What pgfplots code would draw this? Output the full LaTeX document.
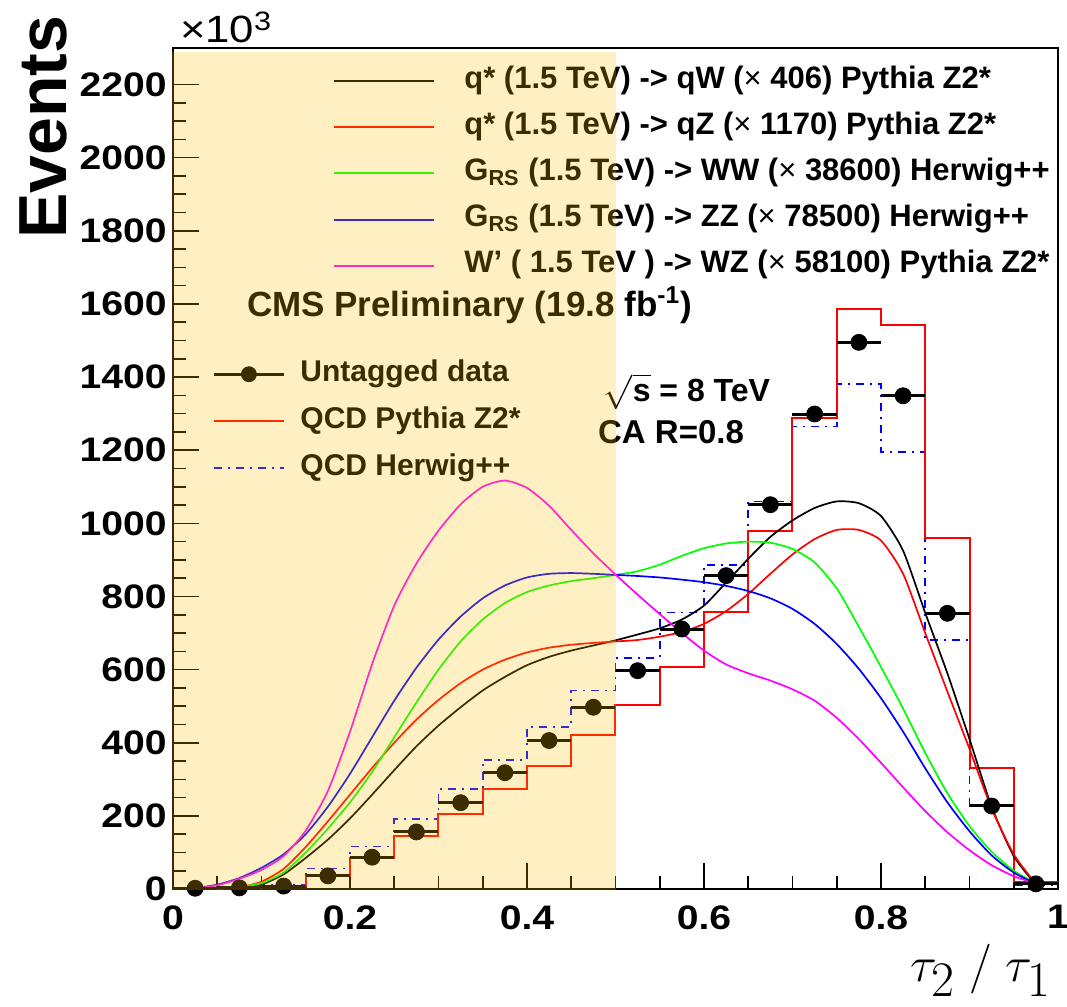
\documentclass[border=0pt]{standalone}
\usepackage{fontspec}
\setmainfont{Liberation Sans}
\newfontfamily\tickfont{Liberation Sans}[FakeStretch=1.15]
\usepackage{pgfplots}
\pgfplotsset{compat=1.18}

\definecolor{rootgreen}{RGB}{0,255,0}
\definecolor{rootblue}{RGB}{0,0,255}
\definecolor{rootmag}{RGB}{255,0,255}
\definecolor{shade}{RGB}{255,190,0}

\newcommand{\legfont}{\fontsize{15.5}{18}\selectfont\bfseries}
\newcommand{\legfontb}{\fontsize{15}{18}\selectfont\bfseries}

\pgfplotsset{
  frame axis/.style={
      scale only axis,
      width=442.5pt,
      height=420.5pt,
      xmin=0, xmax=1,
      ymin=0, ymax=2300,
      clip=false,
    },
  sig/.style={smooth, tension=0.4, line width=0.85pt},
}

\begin{document}
\begin{tikzpicture}
  \useasboundingbox (-86.5pt,-59pt) rectangle (447pt,444.5pt);

  % ------------------------------------------------------------------
  % main frame, histograms, signal shapes, data
  % ------------------------------------------------------------------
  \begin{axis}[
      frame axis,
      name=main,
      axis line style={line width=1pt},
      xtick={0,0.2,0.4,0.6,0.8,1},
      xticklabels={0,0.2,0.4,0.6,0.8,1},
      minor x tick num=3,
      ytick={0,200,400,600,800,1000,1200,1400,1600,1800,2000,2200},
      minor y tick num=3,
      scaled y ticks=false,
      /pgf/number format/fixed,
      /pgf/number format/1000 sep={},
      tick align=inside,
      xtick pos=bottom,
      ytick pos=left,
      major tick length=13pt,
      minor tick length=6.5pt,
      tick style={black, line width=0.8pt},
      /pgf/number format/assume math mode=true,
      tick label style={font=\tickfont\fontsize{17}{20}\selectfont\bfseries, inner sep=0pt},
      yticklabel style={xshift=-3pt},
      xticklabel style={yshift=-8pt},
      legend style={
          draw=none, fill=none,
          at={(rel axis cs:0.1808,0.979)}, anchor=north west,
          inner sep=0pt, row sep=8.1pt,
          font=\legfont,
          nodes={inner sep=0pt, text height=11pt, text depth=4pt},
          /tikz/every odd column/.append style={column sep=14.5pt},
          cells={anchor=west},
        },
      legend image code/.code={\draw[#1, line width=1pt] (0pt,0pt) -- (50pt,0pt);},
    ]

    % QCD Herwig++ (dash-dot histogram)
    \addplot[rootblue, line width=0.9pt, const plot mark left,
      dash pattern=on 4pt off 3pt on 1pt off 3pt, forget plot]
    coordinates {
        (0,1) (0.05,3) (0.1,12) (0.15,56) (0.2,116) (0.25,191) (0.3,273)
        (0.35,353) (0.4,444) (0.45,543) (0.5,632) (0.55,756) (0.6,887)
        (0.65,1060) (0.7,1265) (0.75,1382) (0.8,1195) (0.85,681) (0.9,227)
        (0.95,12) (1.0,12)
      };

    % QCD Pythia Z2* (solid histogram)
    \addplot[red, line width=1pt, const plot mark left, forget plot]
    coordinates {
        (0,1) (0.05,2) (0.1,9) (0.15,35) (0.2,84) (0.25,146) (0.3,204)
        (0.35,274) (0.4,337) (0.45,421) (0.5,502) (0.55,607) (0.6,757)
        (0.65,978) (0.7,1288) (0.75,1587) (0.8,1543) (0.85,961) (0.9,330)
        (0.95,20) (1.0,20)
      };

    % q* -> qW
    \addplot[sig, black] coordinates {
        (0.025,0) (0.05,0) (0.075,3) (0.1,12) (0.125,40) (0.15,85)
        (0.175,135) (0.2,193) (0.225,258) (0.25,325) (0.275,390) (0.3,447)
        (0.325,497) (0.35,543) (0.375,580) (0.4,612) (0.425,635) (0.45,652)
        (0.475,666) (0.5,680) (0.525,696) (0.55,713) (0.575,737) (0.6,775)
        (0.625,838) (0.65,903) (0.675,963) (0.7,1008) (0.725,1042)
        (0.75,1060) (0.775,1055) (0.8,1020) (0.825,925) (0.85,755)
        (0.875,590) (0.9,410) (0.925,225) (0.95,90) (0.975,12)
      };
    \addlegendentry{q* (1.5 TeV) -> qW ({\mdseries ×} 406) Pythia Z2*}

    % q* -> qZ
    \addplot[sig, red] coordinates {
        (0.025,0) (0.05,1) (0.075,5) (0.1,20) (0.125,55) (0.15,115)
        (0.175,185) (0.2,258) (0.225,331) (0.25,400) (0.275,463) (0.3,517)
        (0.325,563) (0.35,600) (0.375,627) (0.4,647) (0.425,660) (0.45,668)
        (0.475,673) (0.5,677) (0.525,681) (0.55,690) (0.575,703) (0.6,725)
        (0.625,760) (0.65,807) (0.675,862) (0.7,915) (0.725,957) (0.75,982)
        (0.775,982) (0.8,953) (0.825,862) (0.85,700) (0.875,540) (0.9,383)
        (0.925,220) (0.95,95) (0.975,14)
      };
    \addlegendentry{q* (1.5 TeV) -> qZ ({\mdseries ×} 1170) Pythia Z2*}

    % G_RS -> WW
    \addplot[sig, rootgreen] coordinates {
        (0.025,0) (0.05,2) (0.075,6) (0.1,16) (0.125,45) (0.15,100)
        (0.175,165) (0.2,237) (0.225,320) (0.25,415) (0.275,510) (0.3,600)
        (0.325,677) (0.35,737) (0.375,782) (0.4,812) (0.425,830) (0.45,842)
        (0.475,850) (0.5,859) (0.525,869) (0.55,887) (0.575,911) (0.6,932)
        (0.625,945) (0.65,950) (0.675,947) (0.7,930) (0.725,893) (0.75,822)
        (0.775,717) (0.8,607) (0.825,493) (0.85,372) (0.875,262) (0.9,172)
        (0.925,102) (0.95,50) (0.975,15)
      };
    \addlegendentry{G\textsubscript{RS} (1.5 TeV) -> WW ({\mdseries ×} 38600) Herwig++}

    % G_RS -> ZZ
    \addplot[sig, rootblue] coordinates {
        (0.025,2) (0.05,12) (0.075,30) (0.1,58) (0.125,95) (0.15,150)
        (0.175,225) (0.2,315) (0.225,415) (0.25,515) (0.275,605) (0.3,682)
        (0.325,745) (0.35,795) (0.375,830) (0.4,852) (0.425,862) (0.45,864)
        (0.475,862) (0.5,859) (0.525,856) (0.55,852) (0.575,846) (0.6,839)
        (0.625,829) (0.65,815) (0.675,795) (0.7,766) (0.725,725) (0.75,670)
        (0.775,602) (0.8,522) (0.825,430) (0.85,330) (0.875,237) (0.9,158)
        (0.925,92) (0.95,45) (0.975,14)
      };
    \addlegendentry{G\textsubscript{RS} (1.5 TeV) -> ZZ ({\mdseries ×} 78500) Herwig++}

    % W' -> WZ
    \addplot[sig, rootmag] coordinates {
        (0.025,2) (0.05,10) (0.075,28) (0.1,52) (0.125,90) (0.15,160)
        (0.175,268) (0.2,430) (0.225,615) (0.25,775) (0.275,890) (0.3,980)
        (0.325,1052) (0.35,1100) (0.375,1117) (0.4,1097) (0.425,1048)
        (0.45,982) (0.475,918) (0.5,860) (0.525,805) (0.55,752) (0.575,700)
        (0.6,652) (0.625,614) (0.65,590) (0.675,570) (0.7,546) (0.725,515)
        (0.75,468) (0.775,410) (0.8,345) (0.825,278) (0.85,213) (0.875,155)
        (0.9,106) (0.925,65) (0.95,35) (0.975,15)
      };
    \addlegendentry{W' ( 1.5 TeV ) -> WZ ({\mdseries ×} 58100) Pythia Z2*}

    % untagged data
    \addplot[
      black, only marks, mark=*, mark size=4pt, forget plot,
      error bars/.cd, x dir=both, x explicit, error mark=none,
      error bar style={line width=1.5pt},
    ]
    coordinates {
        (0.025,2) +- (0.025,0)
        (0.075,3) +- (0.025,0)
        (0.125,8) +- (0.025,0)
        (0.175,36) +- (0.025,0)
        (0.225,87) +- (0.025,0)
        (0.275,156) +- (0.025,0)
        (0.325,236) +- (0.025,0)
        (0.375,318) +- (0.025,0)
        (0.425,406) +- (0.025,0)
        (0.475,497) +- (0.025,0)
        (0.525,597) +- (0.025,0)
        (0.575,711) +- (0.025,0)
        (0.625,857) +- (0.025,0)
        (0.675,1051) +- (0.025,0)
        (0.725,1299) +- (0.025,0)
        (0.775,1495) +- (0.025,0)
        (0.825,1349) +- (0.025,0)
        (0.875,754) +- (0.025,0)
        (0.925,227) +- (0.025,0)
        (0.975,14) +- (0.025,0)
      };

    % texts
    \node[anchor=base west, font=\tickfont\fontsize{19}{22}\selectfont]
      at ([xshift=0pt,yshift=2.5pt]rel axis cs:0,1) {×10\textsuperscript{3}};
    \node[anchor=base, rotate=90, font=\fontsize{34}{40}\selectfont\bfseries]
      at ([xshift=-53pt]rel axis cs:0,0.906) {Events};
    \node[anchor=base east, font=\fontsize{33}{40}\selectfont]
      at ([xshift=0pt,yshift=-46.5pt]rel axis cs:1,0) {$\tau_{2}\;/\;\tau_{1}$};
    \node[anchor=base west, font=\fontsize{17.5}{20}\selectfont\bfseries]
      at (axis cs:0.0757,1566) {CMS Preliminary (19.8 fb\textsuperscript{-1})};
    \node[anchor=base west, font=\fontsize{16}{19}\selectfont\bfseries]
      at (axis cs:0.479,1333) {$\sqrt{\mbox{s}}$ = 8 TeV};
    \node[anchor=base west, font=\fontsize{16.5}{19}\selectfont\bfseries]
      at (axis cs:0.4724,1219.5) {CA R=0.8};
  \end{axis}

  % ------------------------------------------------------------------
  % second legend (data and QCD)
  % ------------------------------------------------------------------
  \begin{axis}[
      frame axis,
      hide axis,
      legend style={
          draw=none, fill=none,
          at={(rel axis cs:0.0441,0.6304)}, anchor=north west,
          inner sep=0pt, row sep=8.5pt,
          font=\legfontb,
          nodes={inner sep=0pt, text height=11pt, text depth=4pt},
          /tikz/every odd column/.append style={column sep=7.5pt},
          cells={anchor=west},
        },
    ]
    \addplot[draw=none, forget plot] coordinates {(0,0)};
    \addlegendimage{legend image code/.code={
          \draw[black, line width=1.5pt] (0pt,0pt) -- (35pt,0pt);
          \fill[black] (17.5pt,0pt) circle[radius=3.75pt];
        }}
    \addlegendentry{Untagged data}
    \addlegendimage{legend image code/.code={
          \draw[red, line width=1pt] (0pt,0pt) -- (35pt,0pt);
        }}
    \addlegendentry{QCD Pythia Z2*}
    \addlegendimage{legend image code/.code={
          \draw[rootblue, line width=0.9pt, dash pattern=on 4pt off 3pt on 1pt off 3pt]
            (0pt,0pt) -- (35pt,0pt);
        }}
    \addlegendentry{QCD Herwig++}
  \end{axis}

  % ------------------------------------------------------------------
  % shaded region tau2/tau1 < 0.5, drawn over everything
  % ------------------------------------------------------------------
  \begin{axis}[frame axis, hide axis]
    \addplot[draw=none, fill=shade, fill opacity=0.235, forget plot]
    coordinates {(-0.0015,-4) (0.5,-4) (0.5,2290) (-0.0015,2290)};
  \end{axis}
\end{tikzpicture}
\end{document}
